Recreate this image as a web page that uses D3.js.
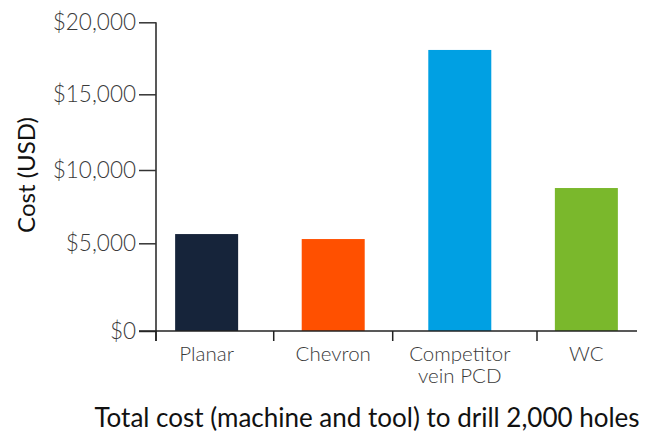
<!DOCTYPE html>
<html>
<head>
<meta charset="utf-8">
<script src="https://cdn.jsdelivr.net/npm/d3@7"></script>
<style>
  html, body { margin: 0; padding: 0; background: #fff; }
  svg { display: block; }
</style>
</head>
<body>
<svg id="chart" width="651" height="432"></svg>
<script>
// ---- data ----
const categories = ["Planar", "Chevron", "Competitor\nvein PCD", "WC"];
const costs = [5630, 5290, 18080, 8770];
const colors = ["#16243a", "#ff5000", "#00a0e3", "#7ab82c"];
const yTickValues = [0, 5000, 10000, 15000, 20000];
const yTickLabels = ["$0", "$5,000", "$10,000", "$15,000", "$20,000"];
// category-index positions of the separator ticks on the x axis
const xSeparators = [-0.4, 0.53, 1.47, 2.61];
const xDomain = [-0.4, 3.4];
const yLabel = "Cost (USD)";
const xTitle = "Total cost (machine and tool) to drill 2,000 holes";

// ---- layout ----
const svg = d3.select("#chart");
const axisX = 156, axisEnd = 637;
const x = d3.scaleLinear().domain(xDomain).range([axisX, axisEnd]);
// the original axis is drawn with unequal spacing; reproduce with a piecewise scale
const y = d3.scaleLinear().domain(yTickValues).range([331, 243.3, 170, 94.3, 22.3]);
const barW = 63;
const font = "Lato, 'Open Sans', sans-serif";

// bars
svg.append("g").selectAll("rect").data(costs).join("rect")
  .attr("x", (d, i) => x(i) - barW / 2)
  .attr("y", d => y(d))
  .attr("width", barW)
  .attr("height", d => y(0) - y(d))
  .attr("fill", (d, i) => colors[i]);

// y axis
const yAxis = d3.axisLeft(y).tickValues(yTickValues)
  .tickFormat((d, i) => yTickLabels[i]).tickSize(17).tickPadding(3);
const gy = svg.append("g").attr("transform", `translate(${axisX},0)`).call(yAxis);
gy.select(".domain").attr("d", `M0,${y(20000)}V341`).attr("stroke", "#222").attr("stroke-width", 1.5);
gy.selectAll(".tick line").attr("stroke", "#333").attr("stroke-width", 1.5);
gy.selectAll(".tick text").attr("font-family", font).attr("font-weight", 300)
  .attr("font-size", 22.5).attr("fill", "#3a3a3a");

// x axis baseline
svg.append("line").attr("x1", axisX - 17).attr("x2", axisEnd)
  .attr("y1", y(0)).attr("y2", y(0)).attr("stroke", "#222").attr("stroke-width", 1.5);
// separator ticks
svg.append("g").selectAll("line").data(xSeparators).join("line")
  .attr("x1", d => x(d)).attr("x2", d => x(d))
  .attr("y1", y(0)).attr("y2", y(0) + 10)
  .attr("stroke", "#222").attr("stroke-width", 1.5);

// category labels
const lbl = svg.append("g").selectAll("text").data(categories).join("text")
  .attr("x", (d, i) => x(i))
  .attr("y", 361)
  .attr("text-anchor", "middle")
  .attr("font-family", font).attr("font-weight", 300)
  .attr("font-size", 20.5).attr("fill", "#3a3a3a");
lbl.each(function(d) {
  const t = d3.select(this);
  d.split("\n").forEach((s, k) => {
    t.append("tspan").attr("x", t.attr("x")).attr("dy", k === 0 ? 0 : 22).text(s);
  });
});

// y-axis title
svg.append("text")
  .attr("transform", "translate(35,175) rotate(-90)")
  .attr("text-anchor", "middle")
  .attr("font-family", font).attr("font-size", 24).attr("fill", "#111")
  .text(yLabel);

// x title
svg.append("text")
  .attr("x", 367).attr("y", 427)
  .attr("text-anchor", "middle")
  .attr("font-family", font).attr("font-size", 26).attr("fill", "#111")
  .text(xTitle);
</script>
</body>
</html>
